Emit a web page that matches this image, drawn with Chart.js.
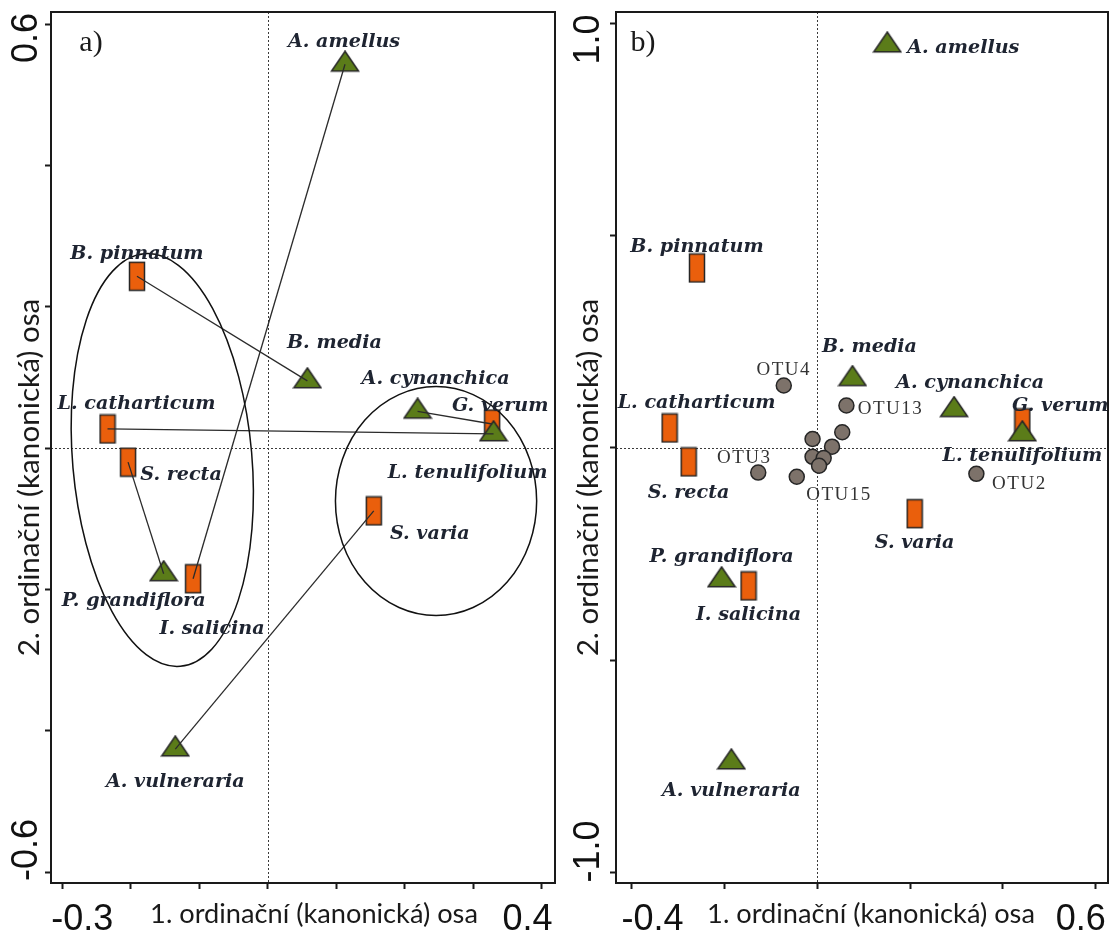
<!DOCTYPE html>
<html>
<head>
<meta charset="utf-8">
<script src="https://cdn.jsdelivr.net/npm/chart.js@4.4.1/dist/chart.umd.min.js"></script>
<style>
  body { margin: 0; background: #fff; width: 1119px; height: 938px; overflow: hidden; position: relative; }
  canvas { position: absolute; top: 0; }
  #chartA { left: 0; }
  #chartB { left: 566px; }
</style>
</head>
<body>
<canvas id="chartA" width="566" height="938"></canvas>
<canvas id="chartB" width="553" height="938"></canvas>
<script>
// ---- panel a) ----
const triNames = ["A. amellus", "B. media", "A. cynanchica", "L. tenulifolium", "P. grandiflora", "A. vulneraria"];
const rectNames = ["B. pinnatum", "L. catharticum", "S. recta", "I. salicina", "S. varia", "G. verum"];

const triXA = [0.113, 0.058, 0.219, 0.330, -0.152, -0.135];
const triYA = [0.543, 0.095, 0.052, 0.020, -0.178, -0.426];
const rectXA = [-0.191, -0.234, -0.204, -0.109, 0.155, 0.328];
const rectYA = [0.243, 0.027, -0.020, -0.185, -0.089, 0.034];
// rect i is joined to triangle pairsA[i]
const pairsA = [1, 3, 4, 0, 5, 2];

const xTicksA = [-0.3, -0.2, -0.1, 0, 0.1, 0.2, 0.3, 0.4];
const yTicksA = [-0.6, -0.4, -0.2, 0, 0.2, 0.4, 0.6];
const xTickLabelsA = ["-0.3", "0.4"];
const yTickLabelsA = ["-0.6", "0.6"];

// ---- panel b) ----
const triXB = [0.151, 0.076, 0.295, 0.442, -0.206, -0.185];
const triYB = [0.949, 0.163, 0.090, 0.033, -0.311, -0.740];
const rectXB = [-0.259, -0.318, -0.277, -0.148, 0.210, 0.442];
const rectYB = [0.424, 0.047, -0.033, -0.325, -0.155, 0.059];

const otuNames = ["OTU4", "OTU13", "", "", "", "", "", "OTU15", "OTU3", "", "OTU2"];
const otuX = [-0.072, 0.063, 0.054, -0.010, 0.032, -0.010, 0.014, 0.004, -0.127, -0.044, 0.343];
const otuY = [0.147, 0.100, 0.037, 0.021, 0.003, -0.021, -0.024, -0.042, -0.058, -0.068, -0.061];

const xTicksB = [-0.4, -0.2, 0, 0.2, 0.4, 0.6];
const yTicksB = [-1.0, -0.5, 0, 0.5, 1.0];
const xTickLabelsB = ["-0.4", "0.6"];
const yTickLabelsB = ["-1.0", "1.0"];

const axisTitleX = "1. ordinační (kanonická) osa";
const axisTitleY = "2. ordinační (kanonická) osa";

// ---- styling / placement (pixels) ----
const ORANGE = "#ea5f0c";
const GREEN = "#5b7c19";
const OTU_FILL = "#7d726a";
const EDGE = "#262626";
const TEXT = "#1e2431";

const triLabelOffA = [[-1, -22], [27, -38], [18, -32], [-26, 39], [-30, 27], [0, 33]];
const rectLabelOffA = [[0, -22], [29, -25], [53, 13], [19, 50], [56, 23], [8, -18]];
const triLabelOffB = [[76, 3], [17, -32], [16, -27], [0, 22], [0, -23], [0, 29]];
const rectLabelOffB = [[0, -21], [27, -25], [0, 31], [0, 29], [0, 29], [38, -17]];
const otuLabelOff = [[0, -16], [44, 4], null, null, null, null, null, [20, 29], [-14, -15], null, [43, 10]];

// ellipses round the groups in panel a (data units, radii in data units)
const ellipsesA = [
  { cx: -0.154, cy: -0.017, rx: 0.131, ry: 0.293, rot: -5 },
  { cx: 0.246, cy: -0.075, rx: 0.147, ry: 0.162, rot: 0 }
];

function markerRect() {
  const c = document.createElement("canvas");
  c.width = 18; c.height = 31;
  const g = c.getContext("2d");
  g.fillStyle = ORANGE;
  g.fillRect(1.5, 1.5, 15, 28);
  g.strokeStyle = EDGE; g.lineWidth = 1.5;
  g.strokeRect(1.5, 1.5, 15, 28);
  return c;
}
function markerTri() {
  const c = document.createElement("canvas");
  c.width = 30; c.height = 28;
  const g = c.getContext("2d");
  // centroid sits at the image centre (15,14)
  g.beginPath();
  g.moveTo(15, 1); g.lineTo(28.5, 20.8); g.lineTo(1.5, 20.8); g.closePath();
  g.fillStyle = GREEN; g.fill();
  g.strokeStyle = EDGE; g.lineWidth = 1.5; g.lineJoin = "miter"; g.stroke();
  return c;
}
const rectImg = markerRect();
const triImg = markerTri();

function pts(xs, ys) { return xs.map((x, i) => ({ x: x, y: ys[i] })); }

function fitSize(text, font, target) {
  const g = document.createElement("canvas").getContext("2d");
  g.font = font(100);
  return 100 * target / g.measureText(text).width;
}
const speciesFont = s => "bold italic " + s + "px 'DejaVu Serif'";
const titleFont = s => s + "px Lato";
const speciesSize = fitSize("L. catharticum", speciesFont, 158);
const titleXSize = fitSize(axisTitleX, titleFont, 328);
const titleYSize = fitSize(axisTitleY, titleFont, 358);

function decor(p) {
  return {
    id: "decor",
    beforeDatasetsDraw(chart) {
      const { ctx, chartArea: a, scales: { x, y } } = chart;
      ctx.save();
      ctx.strokeStyle = "#3a3a3a"; ctx.lineWidth = 1; ctx.setLineDash([2, 2]);
      const x0 = Math.round(x.getPixelForValue(0)) + 0.5;
      const y0 = Math.round(y.getPixelForValue(0)) + 0.5;
      ctx.beginPath();
      ctx.moveTo(x0, a.top); ctx.lineTo(x0, a.bottom);
      ctx.moveTo(a.left, y0); ctx.lineTo(a.right, y0);
      ctx.stroke();
      ctx.restore();
    },
    afterDatasetsDraw(chart) {
      const { ctx, chartArea: a, scales: { x, y } } = chart;
      ctx.save();
      // ellipses
      ctx.strokeStyle = "#111"; ctx.lineWidth = 1.5;
      (p.ellipses || []).forEach(e => {
        const cx = x.getPixelForValue(e.cx), cy = y.getPixelForValue(e.cy);
        const rx = Math.abs(x.getPixelForValue(e.rx) - x.getPixelForValue(0));
        const ry = Math.abs(y.getPixelForValue(e.ry) - y.getPixelForValue(0));
        ctx.beginPath();
        ctx.ellipse(cx, cy, rx, ry, e.rot * Math.PI / 180, 0, Math.PI * 2);
        ctx.stroke();
      });
      // species / OTU labels
      ctx.textAlign = "center"; ctx.textBaseline = "middle";
      p.labels.forEach(L => {
        ctx.font = L.font; ctx.fillStyle = L.color;
        ctx.letterSpacing = L.spacing || "0px";
        L.names.forEach((n, i) => {
          if (!n || !L.offs[i]) return;
          ctx.fillText(n, x.getPixelForValue(L.xs[i]) + L.offs[i][0], y.getPixelForValue(L.ys[i]) + L.offs[i][1]);
        });
      });
      ctx.letterSpacing = "0px";
      // frame
      ctx.strokeStyle = "#1a1a1a"; ctx.lineWidth = 2;
      ctx.strokeRect(a.left, a.top, a.right - a.left, a.bottom - a.top);
      // tick labels
      ctx.fillStyle = "#111";
      ctx.font = "36px 'Liberation Sans'";
      p.xLabels.forEach((t, i) => {
        ctx.fillText(t, x.getPixelForValue(parseFloat(t)) + p.xLabelShift[i], a.bottom + 37);
      });
      p.yLabels.forEach((t, i) => {
        ctx.save();
        ctx.translate(a.left + p.yLabelDX, y.getPixelForValue(parseFloat(t)) + p.yLabelShift[i]);
        ctx.rotate(-Math.PI / 2);
        ctx.fillText(t, 0, 0);
        ctx.restore();
      });
      // axis titles
      ctx.fillStyle = "#1a1a1a";
      ctx.font = titleFont(titleXSize);
      ctx.fillText(axisTitleX, (a.left + a.right) / 2 + p.titleXDX, a.bottom + 31);
      ctx.save();
      ctx.font = titleFont(titleYSize);
      ctx.translate(a.left + p.titleYDX, (a.top + a.bottom) / 2 + 30);
      ctx.rotate(-Math.PI / 2);
      ctx.fillText(axisTitleY, 0, 0);
      ctx.restore();
      // panel letter
      ctx.font = "30px 'Liberation Serif'";
      ctx.fillText(p.letter, a.left + p.letterDX, a.top + 31);
      ctx.restore();
    }
  };
}

function scaleOpts(min, max, ticks, isX) {
  return {
    type: "linear", min: min, max: max,
    afterBuildTicks: s => { s.ticks = ticks.map(v => ({ value: v })); },
    afterFit: s => { if (isX) s.height = 6; else s.width = 6; },
    ticks: { display: false },
    grid: { drawOnChartArea: false, drawTicks: true, tickLength: 6, tickWidth: 2, tickColor: "#1a1a1a" },
    border: { display: false }
  };
}

function baseOptions(xr, yr, xt, yt, pad) {
  return {
    responsive: false, animation: false, events: [],
    layout: { padding: pad },
    plugins: { legend: { display: false }, tooltip: { enabled: false } },
    scales: { x: scaleOpts(xr[0], xr[1], xt, true), y: scaleOpts(yr[0], yr[1], yt, false) }
  };
}

// panel a datasets: connecting lines first so they sit on top of markers
const dsA = rectNames.map((n, i) => ({
  data: [{ x: rectXA[i], y: rectYA[i] }, { x: triXA[pairsA[i]], y: triYA[pairsA[i]] }],
  showLine: true, borderColor: "#2b2b2b", borderWidth: 1.3, pointRadius: 0
}));
dsA.push({ data: pts(triXA, triYA), pointStyle: triImg, pointRadius: 10 });
dsA.push({ data: pts(rectXA, rectYA), pointStyle: rectImg, pointRadius: 10 });

new Chart(document.getElementById("chartA"), {
  type: "scatter",
  data: { datasets: dsA },
  options: baseOptions([-0.3166, 0.4198], [-0.6155, 0.617], xTicksA, yTicksA,
    { left: 45, right: 1, top: 12, bottom: 49 }),
  plugins: [decor({
    ellipses: ellipsesA,
    labels: [
      { names: triNames, xs: triXA, ys: triYA, offs: triLabelOffA, font: speciesFont(speciesSize), color: TEXT },
      { names: rectNames, xs: rectXA, ys: rectYA, offs: rectLabelOffA, font: speciesFont(speciesSize), color: TEXT }
    ],
    xLabels: xTickLabelsA, xLabelShift: [20, -14],
    yLabels: yTickLabelsA, yLabelShift: [-22, 14], yLabelDX: -24,
    titleXDX: 11, titleYDX: -22,
    letter: "a)", letterDX: 40
  })]
});

const dsB = [
  { data: pts(otuX, otuY), pointStyle: "circle", pointRadius: 7.5, backgroundColor: OTU_FILL, borderColor: EDGE, borderWidth: 1.5 },
  { data: pts(triXB, triYB), pointStyle: triImg, pointRadius: 10 },
  { data: pts(rectXB, rectYB), pointStyle: rectImg, pointRadius: 10 }
];

new Chart(document.getElementById("chartB"), {
  type: "scatter",
  data: { datasets: dsB },
  options: baseOptions([-0.4335, 0.6266], [-1.025, 1.027], xTicksB, yTicksB,
    { left: 44, right: 9, top: 12, bottom: 49 }),
  plugins: [decor({
    labels: [
      { names: triNames, xs: triXB, ys: triYB, offs: triLabelOffB, font: speciesFont(speciesSize), color: TEXT },
      { names: rectNames, xs: rectXB, ys: rectYB, offs: rectLabelOffB, font: speciesFont(speciesSize), color: TEXT },
      { names: otuNames, xs: otuX, ys: otuY, offs: otuLabelOff, font: "19px 'Liberation Serif'", color: "#333", spacing: "1.5px" }
    ],
    xLabels: xTickLabelsB, xLabelShift: [21, -15],
    yLabels: yTickLabelsB, yLabelShift: [-21, 16], yLabelDX: -27,
    titleXDX: 9, titleYDX: -28,
    letter: "b)", letterDX: 27
  })]
});
</script>
</body>
</html>
